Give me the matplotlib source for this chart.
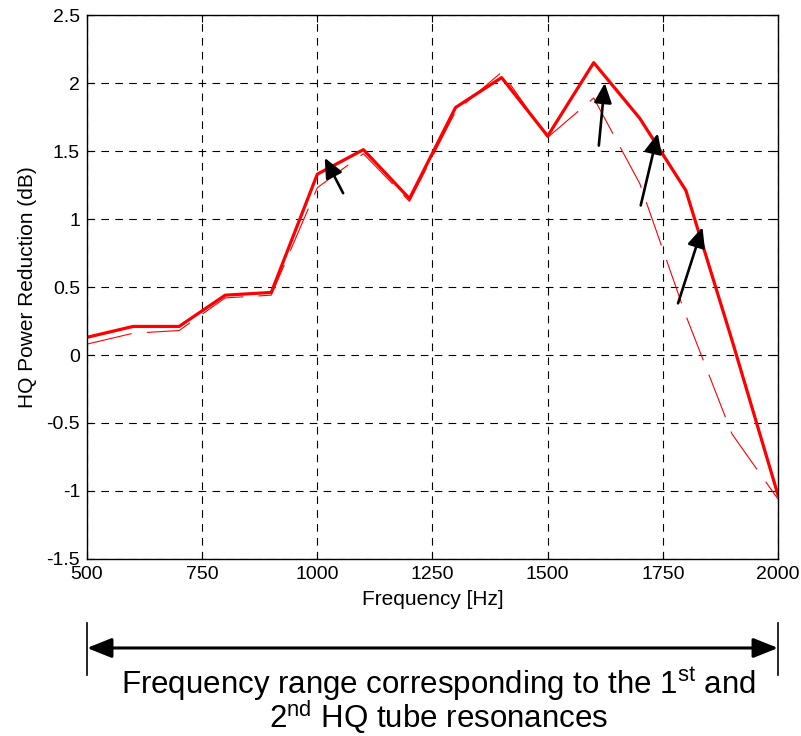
"""HQ power reduction vs frequency, with resonance range annotation."""
import matplotlib
matplotlib.use("Agg")
import matplotlib.pyplot as plt
from matplotlib.transforms import blended_transform_factory

plt.rcParams["font.family"] = ["Liberation Sans", "DejaVu Sans"]
plt.rcParams["mathtext.fontset"] = "custom"
plt.rcParams["mathtext.rm"] = "Liberation Sans"
plt.rcParams["lines.scale_dashes"] = False

freq = [500, 600, 700, 800, 900, 1000, 1100, 1200, 1300, 1400,
        1500, 1600, 1700, 1800, 1900, 2000]
reduction_solid = [0.13, 0.21, 0.21, 0.44, 0.46, 1.33, 1.51, 1.15, 1.82, 2.04,
                   1.61, 2.15, 1.74, 1.21, 0.11, -1.03]
reduction_dashed = [0.08, 0.16, 0.18, 0.42, 0.44, 1.23, 1.48, 1.13, 1.79, 2.08,
                    1.60, 1.89, 1.26, 0.29, -0.58, -1.06]

# (tail, head) of the black arrows pointing at the shift between curves
arrow_tails = [(1056, 1.19), (1611, 1.54), (1702, 1.10), (1783, 0.38)]
arrow_heads = [(1016, 1.45), (1624, 2.00), (1739, 1.63), (1836, 0.94)]

xticks = [500, 750, 1000, 1250, 1500, 1750, 2000]
yticks = [-1.5, -1, -0.5, 0, 0.5, 1, 1.5, 2, 2.5]
ytick_labels = ["-1.5", "-1", "-0.5", "0", "0.5", "1", "1.5", "2", "2.5"]

fig = plt.figure(figsize=(8.01, 7.36), dpi=100)
ax = fig.add_axes([0.1086, 0.2405, 0.8627, 0.7391])

ax.plot(freq, reduction_dashed, color="#ff0000", lw=0.8, linestyle=(0, (33, 11)))
ax.plot(freq, reduction_solid, color="#ff0000", lw=2.3)

for tail, head in zip(arrow_tails, arrow_heads):
    ax.annotate("", xy=head, xytext=tail,
                arrowprops=dict(arrowstyle="-|>,head_length=0.6,head_width=0.27",
                                color="black", lw=1.9, mutation_scale=20,
                                shrinkA=0, shrinkB=0))

ax.set_xlim(500, 2000)
ax.set_ylim(-1.5, 2.5)
ax.set_xticks(xticks)
ax.set_yticks(yticks)
ax.set_yticklabels(ytick_labels)
ax.grid(True, color="black", lw=0.8, linestyle=(0, (5.5, 4.5)))
ax.tick_params(direction="in", length=5, width=0.8, labelsize=14, pad=5,
               top=True, right=True)
for sp in ax.spines.values():
    sp.set_linewidth(1.0)

ax.set_xlabel("Frequency [Hz]", fontsize=15, labelpad=5)
ax.set_ylabel("HQ Power Reduction (dB)", fontsize=15, labelpad=7)

# range annotation under the axis
trans = blended_transform_factory(ax.transData, ax.transAxes)
ax.annotate("", xy=(500, -0.1636), xytext=(2000, -0.1636),
            xycoords=trans, textcoords=trans,
            arrowprops=dict(arrowstyle="<|-|>,head_length=0.75,head_width=0.3",
                            color="black", lw=2.2, mutation_scale=20,
                            shrinkA=0, shrinkB=0),
            annotation_clip=False)
for xv in (500, 2000):
    ax.plot([xv, xv], [-0.1176, -0.2132], color="black", lw=1.2,
            transform=trans, clip_on=False)

caption = (r"Frequency range corresponding to the 1$^{\mathrm{st}}$ and" "\n"
           r"2$^{\mathrm{nd}}$ HQ tube resonances")
fig.text(0.547, 1 - 735.5 / 736, caption, ha="center", va="bottom",
         multialignment="center", fontsize=22.5, linespacing=0.82)

fig.savefig("out.png", dpi=100)
